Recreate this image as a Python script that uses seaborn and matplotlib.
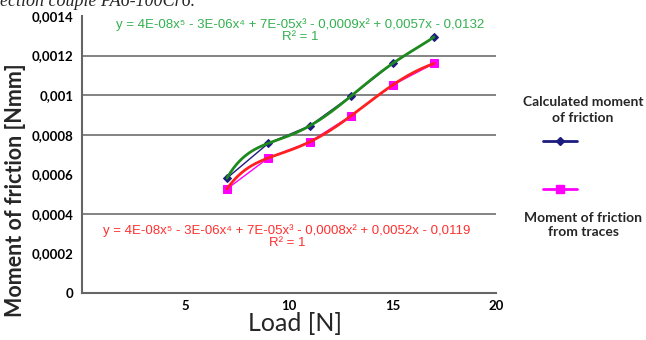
import numpy as np
import pandas as pd
import seaborn as sns
import matplotlib.pyplot as plt
from matplotlib.lines import Line2D

sns.set_style('white')
plt.rcParams['font.family'] = ['Lato', 'DejaVu Sans']

load = [7, 9, 11, 13, 15, 17]
calculated = [0.000581, 0.000757, 0.000845, 0.000996, 0.001160, 0.001294]
traces = [0.000526, 0.000683, 0.000764, 0.000896, 0.001051, 0.001160]

eq_calc = 'y = 4E-08x\u2075 - 3E-06x\u2074 + 7E-05x\u00b3 - 0,0009x\u00b2 + 0,0057x - 0,0132\nR\u00b2 = 1'
eq_traces = 'y = 4E-08x\u2075 - 3E-06x\u2074 + 7E-05x\u00b3 - 0,0008x\u00b2 + 0,0052x - 0,0119\nR\u00b2 = 1'

df = pd.DataFrame({'load': load, 'calculated': calculated, 'traces': traces})

# 5th order trend lines through the six points (as in the spreadsheet)
xs = np.linspace(min(load), max(load), 200)
trend = pd.DataFrame({
    'load': xs,
    'calculated': np.polyval(np.polyfit(load, calculated, 5), xs),
    'traces': np.polyval(np.polyfit(load, traces, 5), xs),
})

fig = plt.figure(figsize=(6.46, 3.4), dpi=100)
ax = fig.add_axes([0.127, 0.138, 0.641, 0.815])

for yv in [0.0004, 0.0008, 0.001, 0.0012]:
    ax.axhline(yv, color='#7a7a7a', lw=1.3, zorder=0)

sns.lineplot(data=df, x='load', y='calculated', ax=ax, color='#1c1c80', lw=1,
             marker='D', markersize=4, markeredgecolor='#1c1c80', zorder=3)
sns.lineplot(data=df, x='load', y='traces', ax=ax, color='#ff00ff', lw=1,
             marker='s', markersize=5.5, markeredgecolor='#ff00ff', zorder=3)
sns.lineplot(data=trend, x='load', y='calculated', ax=ax, color='#1e8a1e', lw=2, zorder=4)
sns.lineplot(data=trend, x='load', y='traces', ax=ax, color='#ff2020', lw=2, zorder=4)

ax.set_xlim(0, 20)
ax.set_ylim(0, 0.0014)
ax.set_xticks([0, 5, 10, 15, 20])
ax.set_xticklabels(['', '5', '10', '15', '20'])
yt = [0, 0.0002, 0.0004, 0.0006, 0.0008, 0.001, 0.0012, 0.0014]
ax.set_yticks(yt)
ax.set_yticklabels(['0', '0,0002', '0,0004', '0,0006', '0,0008', '0,001', '0,0012', '0,0014'])
ax.tick_params(axis='both', labelsize=9.5, colors='#444444', labelcolor='black', length=4, width=1.2)
ax.tick_params(axis='x', direction='inout', length=6, pad=2)
ax.tick_params(axis='y', direction='out', pad=2)
for t in ax.get_xticklabels() + ax.get_yticklabels():
    t.set_fontweight('bold')
for s in ['top', 'right']:
    ax.spines[s].set_visible(False)
for s in ['left', 'bottom']:
    ax.spines[s].set_color('#666666')
    ax.spines[s].set_linewidth(1.5)

ax.set_xlabel('Load [N]', fontsize=18)
ax.set_ylabel('Moment of friction [Nmm]', fontsize=15.5, fontweight='bold')
ax.xaxis.set_label_coords(0.515, -0.068)
ax.yaxis.set_label_coords(-0.135, 0.37)

fig.text(300 / 646, 1 - 31 / 340, eq_calc, color='#33b04f', fontsize=9.5,
         family='Liberation Sans', ha='center', va='center', linespacing=1.0)
fig.text(287 / 646, 1 - 237 / 340, eq_traces, color='#ff3030', fontsize=9.5,
         family='Liberation Sans', ha='center', va='center', linespacing=1.0)

# legend drawn by hand, text above / below the marker lines
fig.text(583 / 646, 1 - 110 / 340, 'Calculated moment\nof friction', fontsize=10,
         fontweight='bold', ha='center', va='center', linespacing=1.3)
fig.text(583 / 646, 1 - 225 / 340, 'Moment of friction\nfrom traces', fontsize=10,
         fontweight='bold', ha='center', va='center', linespacing=1.3)
fig.add_artist(Line2D([543 / 646, 577 / 646], [1 - 141 / 340] * 2, color='#1c1c80', lw=2))
fig.add_artist(Line2D([560 / 646], [1 - 141 / 340], color='#1c1c80', marker='D', markersize=4.5))
fig.add_artist(Line2D([543 / 646, 577 / 646], [1 - 189 / 340] * 2, color='#ff00ff', lw=2))
fig.add_artist(Line2D([560 / 646], [1 - 189 / 340], color='#ff00ff', marker='s', markersize=6))

# caption cut by the top edge
fig.text(0.0, 1 - 6 / 340, 'ection couple PA6-100Cr6.', fontsize=13, family='Liberation Serif',
         style='italic', ha='left', va='baseline')

fig.savefig('out.png', dpi=100)
